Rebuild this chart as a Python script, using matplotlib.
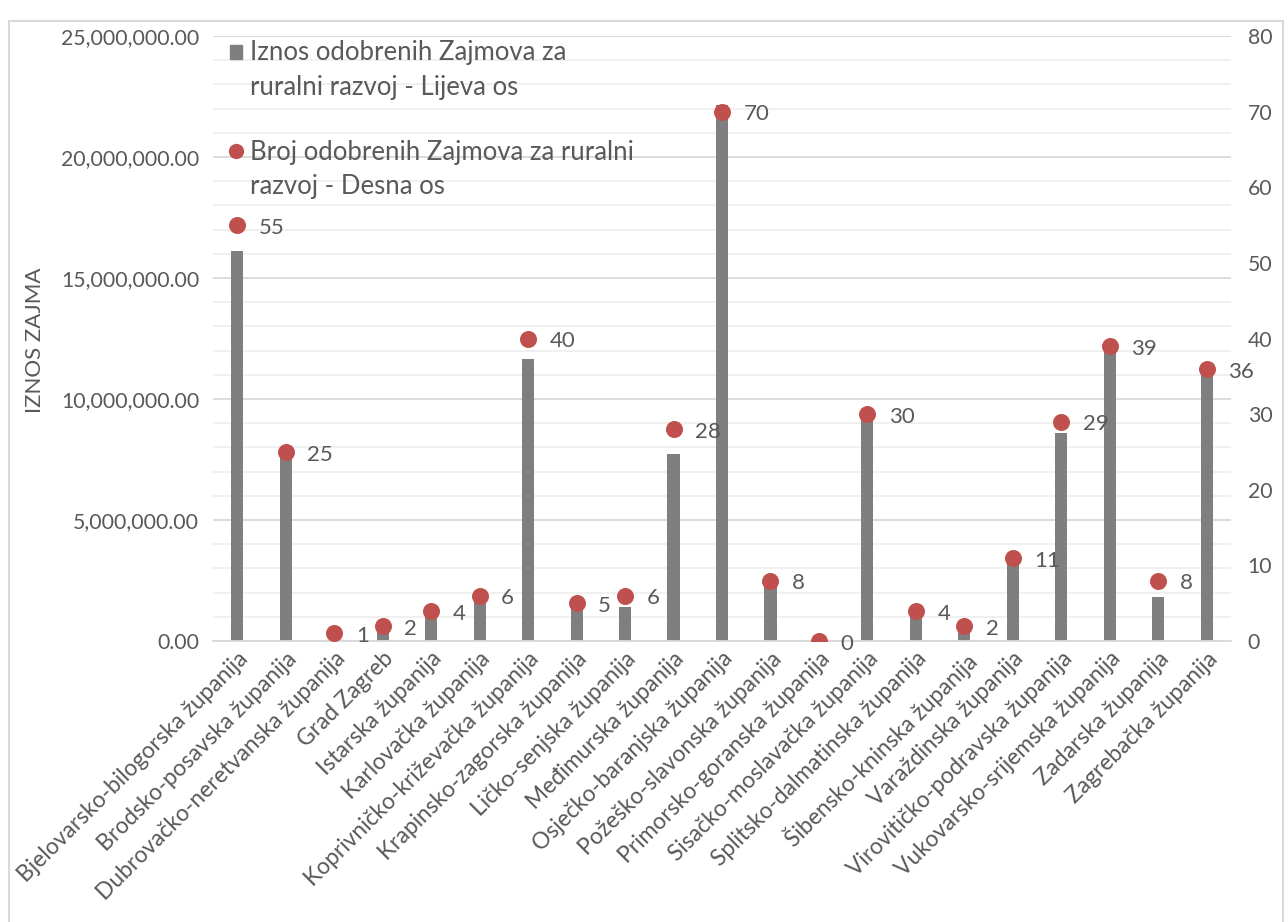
import matplotlib
matplotlib.use("Agg")
import matplotlib.pyplot as plt
from matplotlib.patches import Rectangle
from matplotlib.lines import Line2D
from matplotlib.ticker import FuncFormatter, MultipleLocator

plt.rcParams['font.family'] = ['Lato', 'DejaVu Sans']

categories = [
    "Bjelovarsko-bilogorska županija", "Brodsko-posavska županija",
    "Dubrovačko-neretvanska županija", "Grad Zagreb", "Istarska županija",
    "Karlovačka županija", "Koprivničko-križevačka županija",
    "Krapinsko-zagorska županija", "Ličko-senjska županija",
    "Međimurska županija", "Osječko-baranjska županija",
    "Požeško-slavonska županija", "Primorsko-goranska županija",
    "Sisačko-moslavačka županija", "Splitsko-dalmatinska županija",
    "Šibensko-kninska županija", "Varaždinska županija",
    "Virovitičko-podravska županija", "Vukovarsko-srijemska županija",
    "Zadarska županija", "Zagrebačka županija",
]
iznos = [16120000, 7600000, 0, 500000, 1070000, 1700000, 11650000,
         1400000, 1400000, 7730000, 22150000, 2300000, 0, 9250000,
         1140000, 430000, 3340000, 8600000, 12100000, 1820000, 11150000]
broj = [55, 25, 1, 2, 4, 6, 40, 5, 6, 28, 70, 8, 0, 30, 4, 2, 11, 29, 39, 8, 36]

legend_iznos = "Iznos odobrenih Zajmova za\nruralni razvoj - Lijeva os"
legend_broj = "Broj odobrenih Zajmova za ruralni\nrazvoj - Desna os"
ylabel = "IZNOS ZAJMA"

TXT = "#595959"
BAR = "#7f7f7f"
DOT = "#c0504d"

W, H = 1288, 922
fig = plt.figure(figsize=(W / 100, H / 100), dpi=100)
ax = fig.add_axes([213 / W, 1 - 641 / H, (1231 - 213) / W, (641 - 36) / H])
ax2 = ax.twinx()

x = list(range(len(categories)))
ax.bar(x, iznos, width=0.25, color=BAR, zorder=2)
ax.set_xlim(-0.5, len(categories) - 0.5)
ax.set_ylim(0, 25000000)
ax.yaxis.set_major_locator(MultipleLocator(5000000))
ax.yaxis.set_minor_locator(MultipleLocator(1000000))
ax.yaxis.set_major_formatter(FuncFormatter(lambda v, p: f"{v:,.2f}"))
ax.grid(axis='y', which='major', color='#d9d9d9', lw=1.3, zorder=0)
ax.grid(axis='y', which='minor', color='#efefef', lw=1.3, zorder=0)
ax.set_axisbelow(True)

ax2.scatter(x, broj, s=150, color=DOT, zorder=3, linewidths=0)
ax2.set_ylim(0, 80)
ax2.yaxis.set_major_locator(MultipleLocator(10))
for xi, v in zip(x, broj):
    ax2.annotate(str(v), (xi, v), xytext=(15.5, -2), textcoords='offset points',
                 ha='left', va='center', fontsize=16, color=TXT)

for a in (ax, ax2):
    for s in a.spines.values():
        s.set_visible(False)
ax.spines['bottom'].set_visible(True)
ax.spines['bottom'].set_color('#d9d9d9')
ax.spines['bottom'].set_linewidth(1.3)

ax.tick_params(axis='y', which='both', length=0, labelsize=15.3, labelcolor=TXT, pad=10)
ax2.tick_params(axis='y', which='both', length=0, labelsize=15.3, labelcolor=TXT, pad=12)
ax.set_xticks(x)
ax.set_xticklabels(categories, rotation=45, ha='right', rotation_mode='anchor',
                   fontsize=16.4, color=TXT)
ax.tick_params(axis='x', length=0, pad=5)

fig.text(35 / W, 1 - 340 / H, ylabel, rotation=90, ha='center', va='center',
         fontsize=16, color=TXT)

# legend (manual)
LFS = 18.5
fig.add_artist(Rectangle((230 / W, 1 - 59 / H), 12 / W, 14 / H,
                         transform=fig.transFigure, color=BAR))
fig.add_artist(Line2D([236 / W], [1 - 151 / H], transform=fig.transFigure,
                      marker='o', markersize=11, color=DOT, markeredgewidth=0))
for label, ys in ((legend_iznos, (60, 95)), (legend_broj, (160, 194))):
    for line, yb in zip(label.split("\n"), ys):
        fig.text(250 / W, 1 - yb / H, line, ha='left', va='baseline',
                 fontsize=LFS, color=TXT)

# outer chart border
fig.add_artist(Rectangle((8.5 / W, -0.02), 1274 / W, (922 - 20.5) / H + 0.02,
                         transform=fig.transFigure, fill=False,
                         edgecolor='#d9d9d9', lw=1.5))

fig.savefig("out.png", dpi=100)
